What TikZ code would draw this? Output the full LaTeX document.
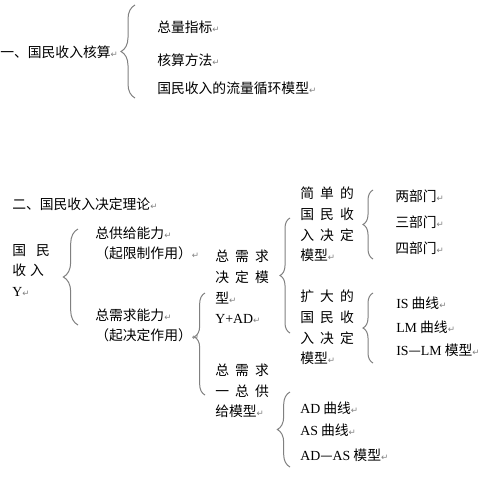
\documentclass[tikz,border=0pt]{standalone}
\usepackage{fontspec}
\usepackage{tikz}
\usetikzlibrary{decorations.pathreplacing}
\setmainfont{Liberation Serif}
\newfontfamily\cjk{Noto Sans CJK SC}
\newfontfamily\symf{DejaVu Sans}
\newcommand\lat[1]{{\rmfamily\fontsize{10.4}{15.4}\selectfont #1}}
\newcommand\ret{{\symf\fontsize{6.5}{6.5}\selectfont\color{gray}↵}}
\newcommand\gp{\hspace{4.6pt}}

\begin{document}
\begin{tikzpicture}[x=0.75pt, y=-0.75pt,
    txt/.style={anchor=west, inner sep=0pt, align=left, font={\cjk\fontsize{10.35}{15.4}\selectfont}},
    brc/.style={decorate, decoration={brace, amplitude=#1}, draw=gray, line width=0.75pt}]

    \useasboundingbox (0,0) rectangle (484,482);

    % Teil 1: Volkswirtschaftliche Gesamtrechnung
    \node[txt] (acc) at (0,52) {一、国民收入核算\ret};
    \node[txt] (acc1) at (157,27) {总量指标\ret};
    \node[txt] (acc2) at (157,60) {核算方法\ret};
    \node[txt] (acc3) at (157,88) {国民收入的流量循环模型\ret};

    % Teil 2: Einkommensbestimmung
    \node[txt] (det) at (12,204) {二、国民收入决定理论\ret};
    \node[txt] (inc) at (12,270.5) {国\hspace{7.5pt}民\\收\hspace{3pt}入\\\lat{Y}\ret};
    \node[txt] (sup) at (95,243.5) {总供给能力\ret\\（起限制作用）\ret};
    \node[txt] (dem) at (95,325.5) {总需求能力\ret\\（起决定作用）\ret};
    \node[txt] (adm) at (215,287) {总\gp 需\gp 求\\决\gp 定\gp 模\\型\ret\\\lat{Y+AD}\ret};
    \node[txt] (asm) at (215,391) {总\gp 需\gp 求\\一\gp 总\gp 供\\给模型\ret};
    \node[txt] (sim) at (300,224.5) {简\gp 单\gp 的\\国\gp 民\gp 收\\入\gp 决\gp 定\\模型\ret};
    \node[txt] (ext) at (300,327.5) {扩\gp 大\gp 的\\国\gp 民\gp 收\\入\gp 决\gp 定\\模型\ret};

    % Blätter
    \node[txt] (two) at (395,196) {两部门\ret};
    \node[txt] (three) at (395,222) {三部门\ret};
    \node[txt] (four) at (395,248) {四部门\ret};
    \node[txt] (is) at (396,303) {\lat{IS} 曲线\ret};
    \node[txt] (lm) at (396,327) {\lat{LM} 曲线\ret};
    \node[txt] (islm) at (396,350) {\lat{IS}—\lat{LM} 模型\ret};
    \node[txt] (ad) at (300,408) {\lat{AD} 曲线\ret};
    \node[txt] (as) at (300,430) {\lat{AS} 曲线\ret};
    \node[txt] (adas) at (300,455) {\lat{AD}—\lat{AS} 模型\ret};

    % Klammern
    \coordinate (b1s) at (135,98);  \coordinate (b1e) at (135,5);
    \coordinate (b2s) at (78,325);  \coordinate (b2e) at (78,229);
    \coordinate (b3s) at (205,395); \coordinate (b3e) at (205,293);
    \coordinate (b4s) at (290,333); \coordinate (b4e) at (290,218);
    \coordinate (b5s) at (373,259); \coordinate (b5e) at (373,190);
    \coordinate (b6s) at (373,363); \coordinate (b6e) at (373,293);
    \coordinate (b7s) at (290,467); \coordinate (b7e) at (290,392);
    \draw[brc=10.5pt] (b1s) -- (b1e);
    \draw[brc=11pt] (b2s) -- (b2e);
    \draw[brc=8pt, decoration={aspect=0.57}] (b3s) -- (b3e);
    \draw[brc=7.5pt] (b4s) -- (b4e);
    \draw[brc=7.5pt] (b5s) -- (b5e);
    \draw[brc=7.5pt] (b6s) -- (b6e);
    \draw[brc=9.5pt] (b7s) -- (b7e);

\end{tikzpicture}
\end{document}
